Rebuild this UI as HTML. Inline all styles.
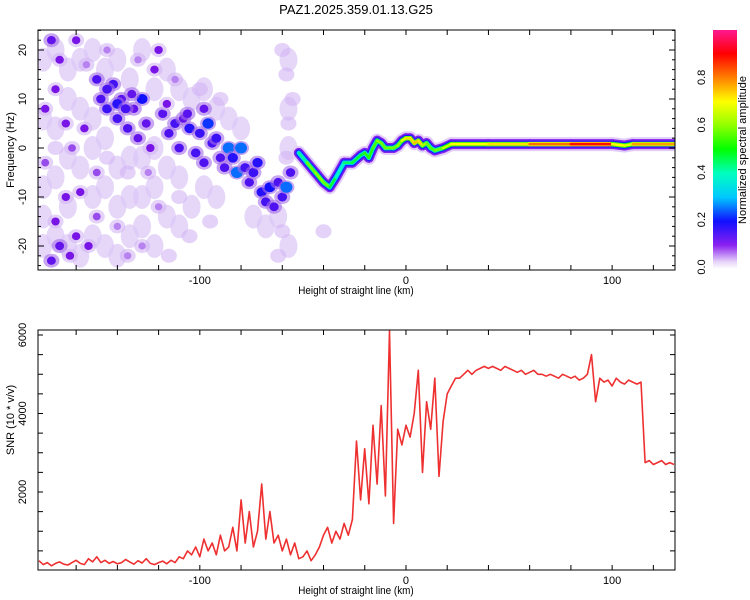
<!DOCTYPE html>
<html><head><meta charset="utf-8"><style>
body{margin:0;background:#fff;width:750px;height:600px;overflow:hidden}
svg{display:block;font-family:"Liberation Sans",sans-serif}
</style></head><body>
<svg id="s" width="750" height="600" xmlns="http://www.w3.org/2000/svg">
<defs>
<linearGradient id="cb" x1="0" y1="1" x2="0" y2="0">
<stop offset="0" stop-color="#ffffff"/><stop offset="0.03" stop-color="#e6d4f8"/>
<stop offset="0.1" stop-color="#8a20f0"/><stop offset="0.2" stop-color="#1010ff"/>
<stop offset="0.3" stop-color="#00c8ff"/><stop offset="0.4" stop-color="#00ffc0"/>
<stop offset="0.5" stop-color="#00ff00"/><stop offset="0.6" stop-color="#90ff00"/>
<stop offset="0.7" stop-color="#ffff00"/><stop offset="0.8" stop-color="#ff8000"/>
<stop offset="0.9" stop-color="#ff0000"/><stop offset="1" stop-color="#ff1890"/>
</linearGradient>
<clipPath id="c1"><rect x="38" y="30" width="637" height="240"/></clipPath>
<clipPath id="c2"><rect x="38" y="330" width="637" height="240"/></clipPath>
</defs>
<text x="356" y="14" text-anchor="middle" font-size="13">PAZ1.2025.359.01.13.G25</text>
<g id="topg" clip-path="url(#c1)"></g>
<g id="botg" clip-path="url(#c2)"></g>
<g id="axes"></g>
<rect x="713" y="30" width="24" height="239" fill="url(#cb)"/>
<text transform="translate(746,150) rotate(-90)" text-anchor="middle" font-size="11">Normalized spectral amplitude</text>
</svg>
<script>
// SNR data: heights every 2 km from -178
const snrStart = -178, snrStep = 2;
const snrValues = [250,150,200,120,180,220,160,140,200,260,180,150,300,220,350,200,260,180,230,170,200,280,220,160,250,190,300,180,150,200,240,170,260,200,
350,300,500,400,600,350,
800,500,700,400,900,500,600,
1100,500,1800,700,1500,600,1000,2200,800,1500,700,
900,500,800,400,700,300,
350,500,250,400,600,
900,1100,700,1000,800,
1200,900,1300,
3300,1800,3100,
1700,3700,2200,4200,1900,
6100,
1200,3600,3200,3700,
3400,4000,5100,2500,4300,3600,4900,2400,3800,4500,
4700,4900,
4900,5000,5100,5000,5100,5150,5200,5150,
5200,5150,5100,5200,5150,5100,5050,5100,5000,5050,5100,5000,5000,4950,5000,4950,4900,5000,4950,4900,4950,4850,4900,5000,
5500,4300,
4900,4800,4850,4700,4900,4800,4750,4850,4800,4750,4800,
2750,2800,2700,2750,2800,2700,2750,2700];
// Spectrogram ridge: height (km), frequency (Hz), amplitude
const ridgeX = [-52,-48,-44,-40,-37,-34,-30,-26,-22,-20,-18,-16,-14,-12,-10,-6,-4,-2,0,2,4,6,8,10,12,14,18,22,40,60,80,100,106,110,130];
const ridgeF = [-1,-3,-5,-7,-8,-6,-3,-3,-1.5,-1,-2,0,1.5,1,0,0,0.5,1.5,2,2,1,1.5,0.5,1,0,-0.5,0,0.8,0.8,0.8,0.8,0.8,0.5,0.8,0.8];
const ridgeA = [0.3,0.55,0.6,0.6,0.55,0.4,0.4,0.5,0.45,0.5,0.55,0.5,0.6,0.6,0.55,0.6,0.55,0.65,0.7,0.75,0.7,0.8,0.65,0.6,0.55,0.55,0.6,0.7,0.7,0.75,0.88,0.9,0.5,0.85,0.7];
// scattered spectral blobs: height, frequency, amplitude
const blobX = [-172,-168,-160,-170,-165,-175,-170,-168,-172,-160,-158,-162,-150,-148,-145,-142,-140,-138,-135,-132,-130,-128,-126,-122,-120,-118,-115,-112,-110,-108,-105,-102,-100,-98,-96,-94,-92,-90,-88,-86,-84,-82,-80,-78,-76,-74,-72,-70,-68,-66,-64,-62,-60,-58,-56,-145,-140,-136,-133,-124,-116,-106,-98,-156,-150,-165,-175,-163,-154,-150,-140,-135,-128,-120,-125,-110,-105,-115,-100,-95,-90,-60,-58,-55,-57,-58,-60,-62,-40,-130,-112,-145,-155,-135,-145,-170];
const blobF = [22,18,22,12,5,-3,-15,-20,-23,-18,-9,0,14,10,8,13,6,10,4,8,2,10,5,16,20,7,3,5,0,6,4,-1,3,-3,5,1,2,-2,-4,0,-2,-5,0,-4,-7,-5,-3,-9,-11,-8,-12,-7,-10,-8,-5,12,9,8,11,0,9,7,8,4,-5,-10,8,-22,-20,-14,-16,-22,-20,-12,-5,-10,-18,-22,12,-15,10,20,15,10,5,-2,-17,-22,-17,18,14,20,17,-5,-2,0];
const blobA = [.12,.1,.1,.1,.1,.08,.1,.12,.12,.1,.1,.08,.14,.14,.16,.15,.15,.13,.14,.12,.12,.2,.12,.1,.1,.13,.14,.15,.14,.12,.18,.15,.16,.14,.22,.15,.16,.14,.14,.25,.18,.25,.25,.15,.14,.16,.18,.18,.15,.2,.14,.14,.15,.25,.14,.15,.18,.15,.12,.1,.1,.13,.12,.1,.08,.1,.1,.1,.1,.08,.06,.06,.06,.06,.06,.05,.05,.05,.05,.05,.05,.04,.04,.04,.04,.04,.05,.04,.04,.06,.06,.06,.06,.05,.05,.05];
// faint background energy: height, frequency, amplitude
const hazeX = [-176,-176,-176,-176,-176,-170,-170,-170,-170,-164,-164,-164,-164,-164,-158,-158,-158,-158,-152,-152,-152,-152,-152,-146,-146,-146,-146,-140,-140,-140,-140,-134,-134,-134,-134,-128,-128,-128,-128,-122,-122,-122,-122,-116,-116,-116,-110,-110,-110,-104,-104,-98,-98,-92,-92,-86,-80,-74,-68,-62,-57,-57,-57,-57];
const hazeF = [18,6,-8,-14,-20,20,4,-6,-18,16,10,-2,-12,-20,18,8,-4,-22,20,6,0,-10,-18,16,2,-8,-20,18,-4,-12,-22,14,-2,-10,-18,20,-2,-10,-16,12,0,-8,-20,16,-4,-14,12,-6,-16,10,-12,12,-8,8,-10,6,4,-14,-16,-14,18,8,0,-20];
const hazeA = [.04,.04,.04,.04,.04,.04,.04,.04,.04,.04,.04,.04,.04,.04,.04,.04,.04,.04,.04,.04,.04,.04,.04,.04,.04,.04,.04,.04,.04,.04,.04,.04,.04,.04,.04,.04,.04,.04,.04,.04,.04,.04,.04,.04,.04,.04,.04,.04,.04,.04,.04,.04,.04,.04,.04,.04,.04,.04,.04,.04,.04,.04,.04,.04];
const xTicks = [-100,0,100];
const fTicks = [20,10,0,-10,-20];
const snrTicks = [2000,4000,6000];
const cbTicks = [0.0,0.2,0.4,0.6,0.8];

const NS='http://www.w3.org/2000/svg';
const X0=38,X1=675,XMIN=-178.5,XMAX=130.5;
const sx=v=>X0+(v-XMIN)/(XMAX-XMIN)*(X1-X0);
const sf=f=>148-f*4.9;
const sy=v=>570.5-v*(78.5/2000);
function mk(tag,at,parent){const e=document.createElementNS(NS,tag);for(const k in at)e.setAttribute(k,at[k]);parent.appendChild(e);return e;}
const stops=[[0,[255,255,255]],[0.03,[230,212,248]],[0.1,[120,20,230]],[0.2,[16,16,255]],[0.3,[0,200,255]],[0.4,[0,255,192]],[0.5,[0,255,0]],[0.6,[144,255,0]],[0.7,[255,255,0]],[0.8,[255,128,0]],[0.9,[255,0,0]],[1,[255,24,144]]];
function cmap(a){for(let i=1;i<stops.length;i++){if(a<=stops[i][0]){const t=(a-stops[i-1][0])/(stops[i][0]-stops[i-1][0]);const c=stops[i-1][1].map((v,j)=>Math.round(v+(stops[i][1][j]-v)*t));return `rgb(${c})`;}}return 'rgb(255,24,144)';}

const topG=document.getElementById('topg');
hazeX.forEach((x,i)=>{
  const h=mk('ellipse',{cx:sx(x),cy:sf(hazeF[i]),rx:9,ry:12,fill:'#dcc6f6','fill-opacity':0.5+hazeA[i]*5},topG);
  
  
});
blobX.forEach((x,i)=>{
  const a=blobA[i];
  const h=mk('ellipse',{cx:sx(x),cy:sf(blobF[i]),rx:8,ry:7,fill:a>0.1?'#a46ae8':'#d2b4f4','fill-opacity':0.6},topG);
  
  
  if(a>0.055){const e=mk('ellipse',{cx:sx(x),cy:sf(blobF[i]),rx:3+a*12,ry:3+a*10,fill:cmap(a)},topG);
  
  }
});
const layers=[[14,'#e3cdf8',a=>0],[10,'#8420ee',a=>0],[7,'#1a20ff',a=>0],[4.5,null,a=>Math.max(0.3,a-0.15)],[2.5,null,a=>a]];
layers.forEach(([w,col,fa])=>{
  for(let i=0;i<ridgeX.length-1;i++){
    const l=mk('line',{x1:sx(ridgeX[i]),y1:sf(ridgeF[i]),x2:sx(ridgeX[i+1]),y2:sf(ridgeF[i+1]),stroke:col||cmap(fa((ridgeA[i]+ridgeA[i+1])/2)),'stroke-width':w,'stroke-linecap':'round'},topG);
    
    
  }
});

const botG=document.getElementById('botg');
const pts=snrValues.map((v,i)=>sx(snrStart+i*snrStep).toFixed(1)+','+sy(v).toFixed(1)).join(' ');
const pl=mk('polyline',{points:pts,fill:'none',stroke:'#ee3030','stroke-width':1.6,'stroke-linejoin':'round'},botG);



const ax=document.getElementById('axes');
function frame(y0,y1,name){const r=mk('rect',{x:X0,y:y0,width:X1-X0,height:y1-y0,fill:'none',stroke:'#000','stroke-width':1},ax);


for(let v=-160;v<=120;v+=20){const px=sx(v);mk('line',{x1:px,y1:y0,x2:px,y2:y0+5,stroke:'#000'},ax);mk('line',{x1:px,y1:y1,x2:px,y2:y1-5,stroke:'#000'},ax);}
xTicks.forEach(v=>{const t=mk('text',{x:sx(v),y:y1+14,'text-anchor':'middle','font-size':11},ax);t.textContent=v;

});
const xl=mk('text',{x:356,y:y1+24,'text-anchor':'middle','font-size':11,transform:`translate(356,0) scale(0.9,1) translate(-356,0)`},ax);xl.textContent='Height of straight line (km)';

}
frame(30,270,'spectrogram-frame');frame(330,570,'snr-frame');
for(let f=-24;f<=24;f+=2){const py=sf(f);const L=f%10===0?6:3;mk('line',{x1:X0,y1:py,x2:X0+L,y2:py,stroke:'#000'},ax);mk('line',{x1:X1,y1:py,x2:X1-L,y2:py,stroke:'#000'},ax);}
fTicks.forEach(v=>{const t=mk('text',{transform:`translate(26,${sf(v)}) rotate(-90)`,'text-anchor':'middle','font-size':11},ax);t.textContent=v;

});
const yl=mk('text',{transform:'translate(14,150) rotate(-90)','text-anchor':'middle','font-size':11},ax);yl.textContent='Frequency (Hz)';


for(let v=500;v<=6000;v+=500){const py=sy(v);mk('line',{x1:X0,y1:py,x2:X0+5,y2:py,stroke:'#000'},ax);mk('line',{x1:X1,y1:py,x2:X1-5,y2:py,stroke:'#000'},ax);}
snrTicks.forEach(v=>{const t=mk('text',{transform:`translate(26,${sy(v)}) rotate(-90)`,'text-anchor':'middle','font-size':11},ax);t.textContent=v;

});
const yl2=mk('text',{transform:'translate(14,420) rotate(-90)','text-anchor':'middle','font-size':11},ax);yl2.textContent='SNR (10 * v/v)';


cbTicks.forEach(v=>{const py=267-v*237;mk('line',{x1:713,y1:py,x2:717,y2:py,stroke:'#000'},ax);
const t=mk('text',{transform:`translate(705,${py}) rotate(-90)`,'text-anchor':'middle','font-size':11},ax);t.textContent=v.toFixed(1);

});
</script>
</body></html>
